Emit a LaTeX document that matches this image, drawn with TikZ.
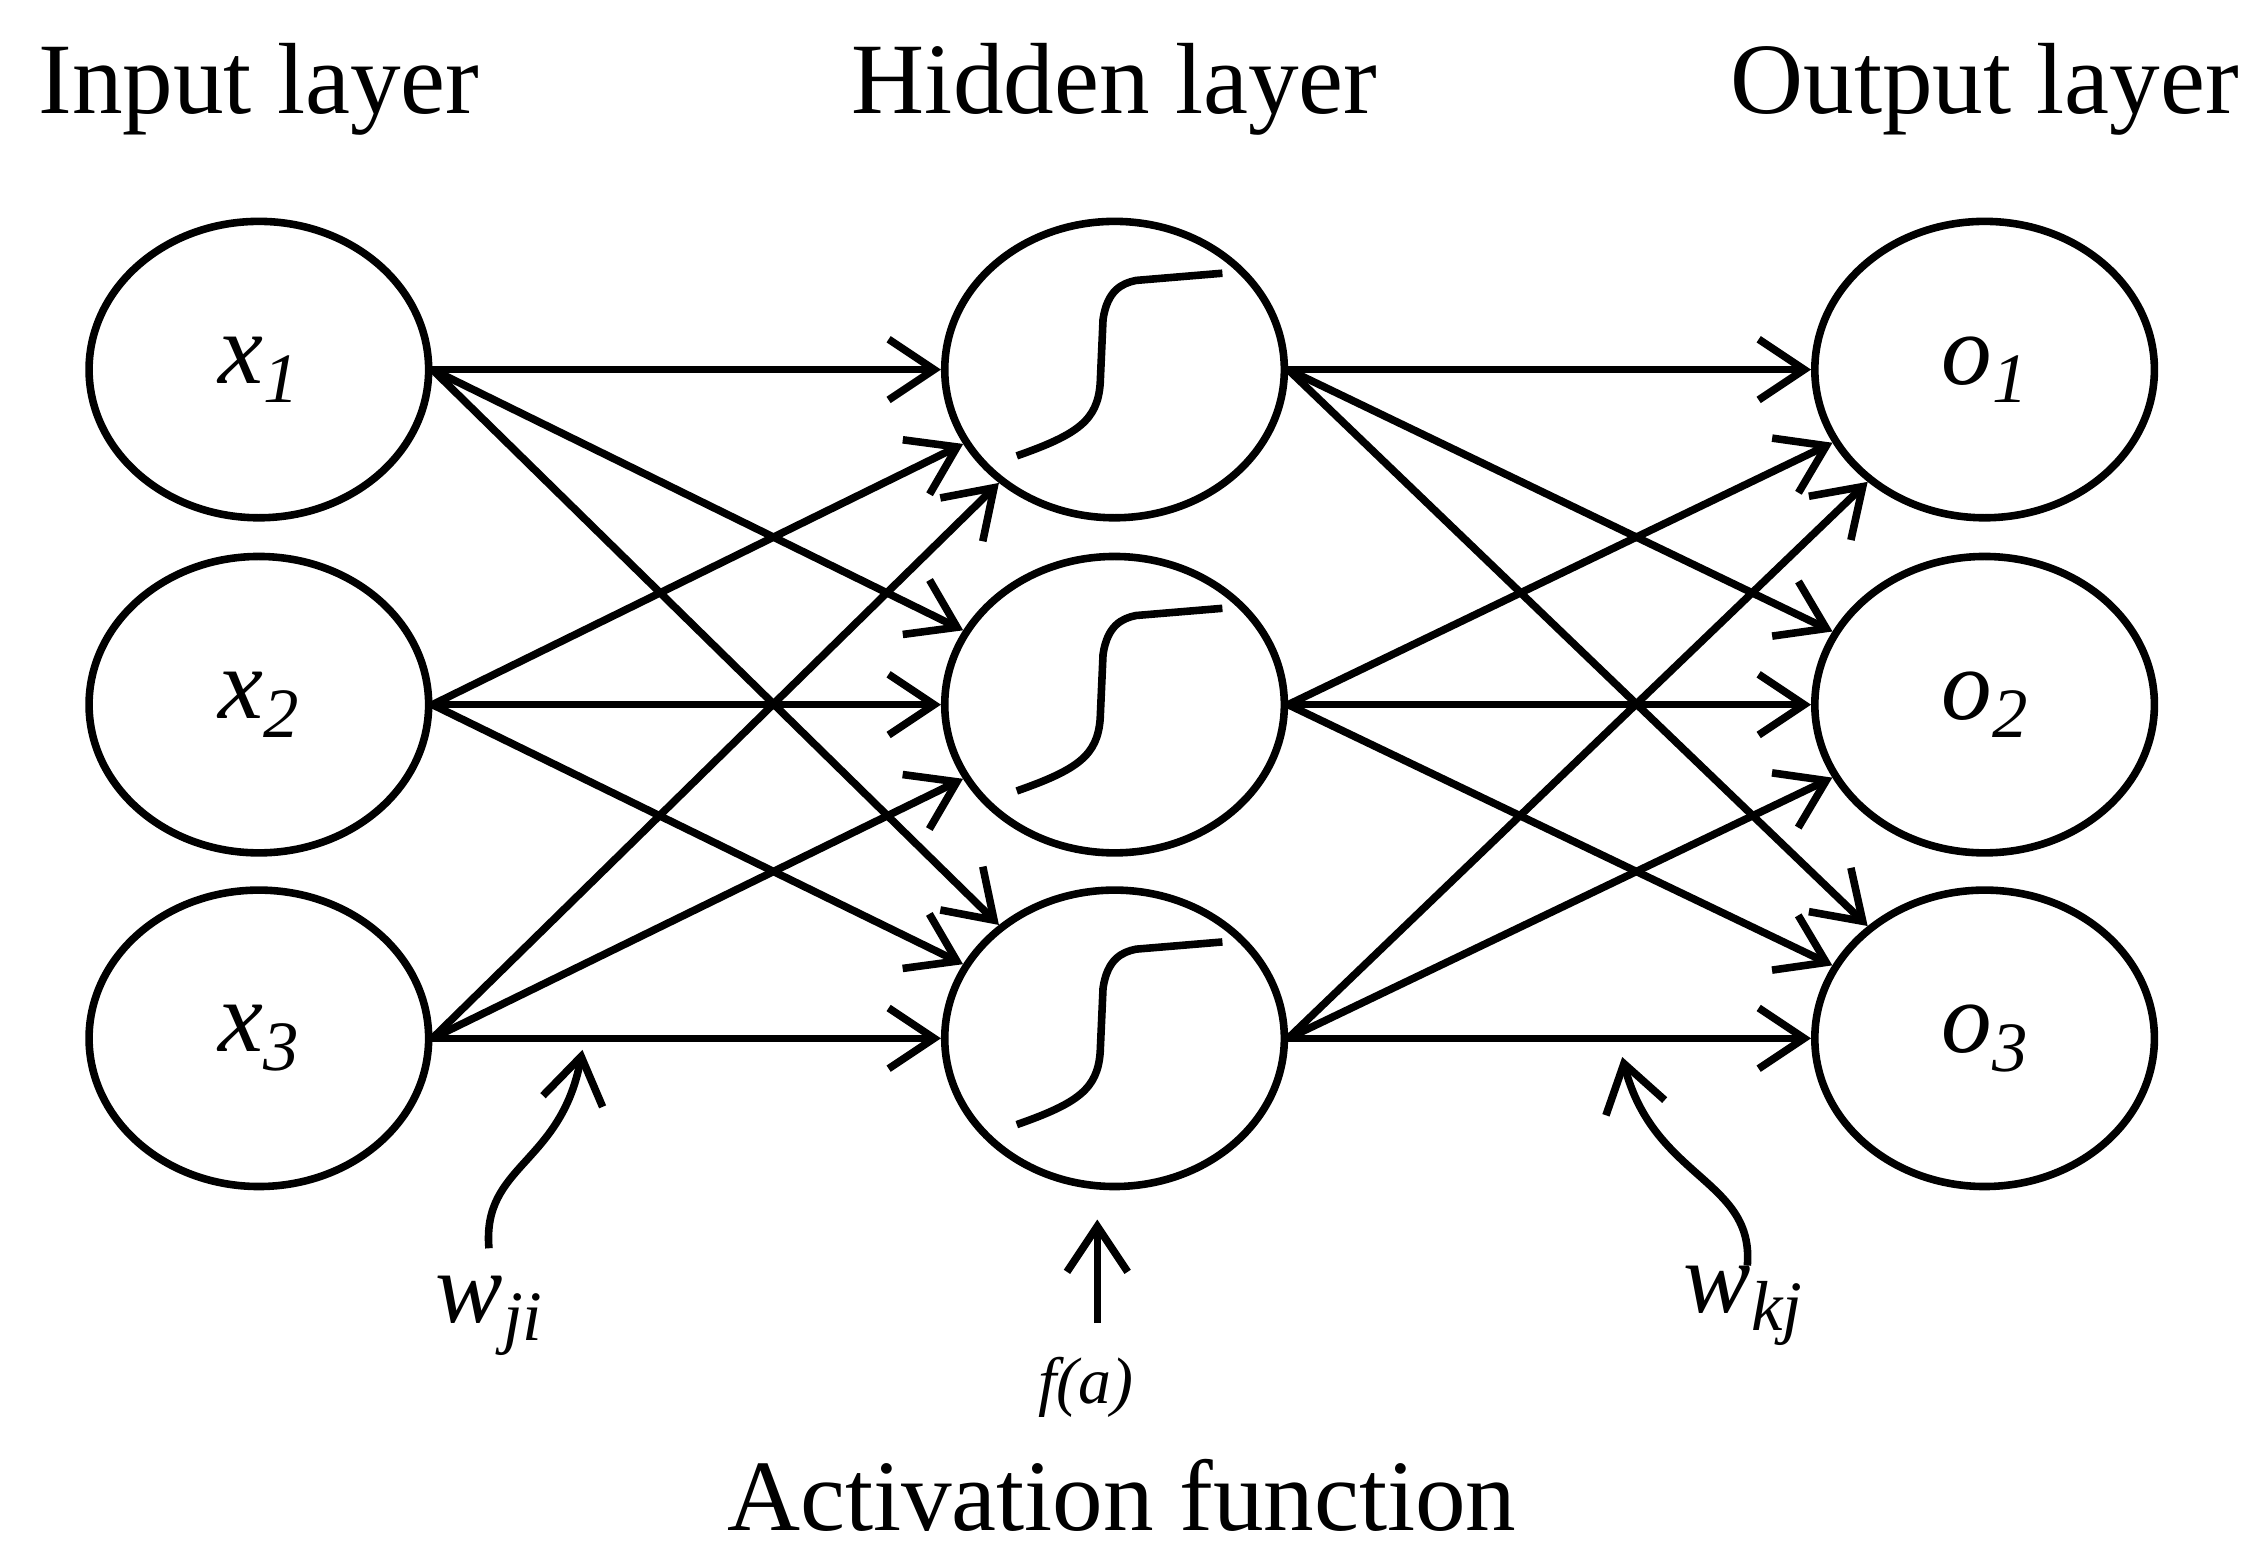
\documentclass[tikz,border=0pt]{standalone}
\usepackage{fontspec}
\setmainfont{Liberation Serif}
\usetikzlibrary{shapes.geometric,arrows.meta}
\begin{document}
\begin{tikzpicture}[x=0.01cm,y=-0.01cm,line width=1.5pt,
  neuron/.style={ellipse,draw,line width=1.5pt,minimum width=2.36cm,minimum height=2.06cm,inner sep=0pt},
  con/.style={-{Straight Barb[length=9pt,width=12pt,line width=1.5pt]},line width=1.5pt},
  title/.style={font=\fontsize{20}{24}\selectfont},
  var/.style={font=\fontsize{20}{24}\selectfont\itshape},
  sub/.style={font=\fontsize{14}{16}\selectfont\itshape}]
\useasboundingbox (0,0) rectangle (1568,1083);
\foreach \i/\y in {1/257,2/490,3/722}{
  \node[neuron,var] (x\i) at (180,\y) {x\raisebox{-0.4ex}{\fontsize{14}{16}\selectfont\itshape\i}};
  \node[neuron] (h\i) at (775,\y) {};
  \node[neuron,var] (o\i) at (1380,\y) {o\raisebox{-0.4ex}{\fontsize{14}{16}\selectfont\itshape\i}};
  \draw[line width=1.5pt] ([shift={(-68,60)}]h\i.center) .. controls ([shift={(-25,45)}]h\i.center) and ([shift={(-12,35)}]h\i.center) .. ([shift={(-10,10)}]h\i.center)
    -- ([shift={(-8,-35)}]h\i.center) .. controls ([shift={(-5,-55)}]h\i.center) and ([shift={(5,-60)}]h\i.center) .. ([shift={(15,-62)}]h\i.center)
    -- ([shift={(75,-67)}]h\i.center);
}
\foreach \i in {1,2,3}{\foreach \j in {1,2,3}{
  \draw[con] (x\i.east) -- (h\j);
  \draw[con] (h\i.east) -- (o\j);
}}
\node[title] (ti) at (180,62) {Input layer};
\node[title] (th) at (775,62) {Hidden layer};
\node[title] (to) at (1380,62) {Output layer};
\node[var] (wji) at (340,915) {w\raisebox{-0.4ex}{\fontsize{14}{16}\selectfont\itshape ji}};
\node[var] (wkj) at (1212,908) {w\raisebox{-0.4ex}{\fontsize{14}{16}\selectfont\itshape kj}};
\node[font=\fontsize{13}{15}\selectfont\itshape] (fa) at (755,965) {f(a)};
\node[title] (af) at (780,1040) {Activation function};
\coordinate (a1) at (340,868);
\coordinate (a1e) at (405,730);
\coordinate (a2) at (1215,880);
\coordinate (a2e) at (1128,735);
\coordinate (a3) at (763,920);
\coordinate (a3e) at (763,848);
\draw[con] (a1) .. controls (335,810) and (390,810) .. (a1e);
\draw[con] (a2) .. controls (1220,820) and (1150,820) .. (a2e);
\draw[con] (a3) -- (a3e);
\end{tikzpicture}
\end{document}
